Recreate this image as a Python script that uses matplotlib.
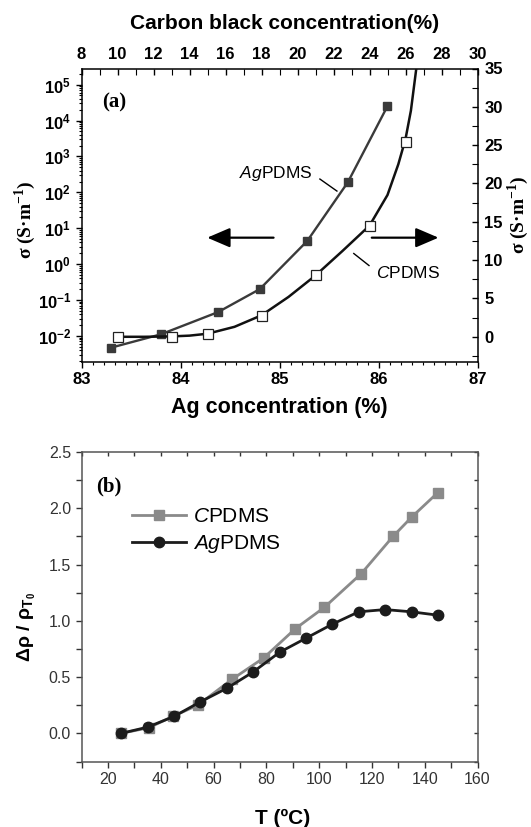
import matplotlib
matplotlib.use("Agg")
import matplotlib.pyplot as plt
from matplotlib.ticker import MultipleLocator, AutoMinorLocator, LogLocator, NullFormatter

plt.rcParams['font.family'] = ['Liberation Sans', 'DejaVu Sans']
plt.rcParams['mathtext.fontset'] = 'custom'
plt.rcParams['mathtext.rm'] = 'Liberation Sans'
plt.rcParams['mathtext.it'] = 'Liberation Sans:italic'
plt.rcParams['mathtext.bf'] = 'Liberation Sans:bold'

# ---------------- data: panel (a) ----------------
ag_conc = [83.30, 83.80, 84.38, 84.80, 85.28, 85.69, 86.09]
ag_sigma = [0.0047, 0.011, 0.046, 0.20, 4.4, 190.0, 2.5e4]

cb_conc = [10, 13, 15, 18, 21, 24, 26]
cb_sigma = [0.0, 0.0, 0.3, 2.7, 8.0, 14.5, 25.4]

# fitted curve for CPDMS
cb_fit = [10.3, 11.5, 13.0, 14.0, 15.0, 16.5, 18.0, 19.5, 21.0, 22.5, 24.0, 25.0, 25.6, 26.0, 26.3, 26.6]
sigma_fit = [0.0, 0.0, 0.05, 0.15, 0.4, 1.3, 2.8, 5.2, 8.0, 11.2, 14.5, 18.5, 22.5, 25.8, 29.5, 35.0]

# ---------------- data: panel (b) ----------------
T_c = [25, 35.5, 44.5, 54, 67, 79, 91, 102, 116, 128, 135, 145]
drho_c = [0.0, 0.05, 0.15, 0.25, 0.48, 0.67, 0.93, 1.12, 1.42, 1.75, 1.92, 2.14]

T_ag = [25, 35, 45, 55, 65, 75, 85, 95, 105, 115, 125, 135, 145]
drho_ag = [0.0, 0.055, 0.15, 0.28, 0.40, 0.545, 0.72, 0.845, 0.97, 1.08, 1.10, 1.08, 1.05]

W, H = 531, 827
fig = plt.figure(figsize=(W / 100, H / 100), dpi=100)

def fx(px):
    return px / W

def fy(py):
    return 1 - py / H

# ================= panel (a) =================
L, R = 81.5, 477.5
T1, B1 = 68.5, 361.7
pos1 = [fx(L), fy(B1), fx(R) - fx(L), fy(T1) - fy(B1)]
ax1 = fig.add_axes(pos1)
ax2 = fig.add_axes(pos1, frameon=False)

dark = '#3a3a3a'
ax1.plot(ag_conc, ag_sigma, color=dark, lw=1.7, marker='s', ms=6,
         mfc=dark, mec=dark, zorder=3)
ax1.set_yscale('log')
ax1.set_xlim(83, 87)
ax1.set_ylim(10 ** -2.72, 10 ** 5.45)
ax1.xaxis.set_major_locator(MultipleLocator(1))
ax1.xaxis.set_minor_locator(AutoMinorLocator(9))
ax1.yaxis.set_major_locator(LogLocator(base=10, numticks=20))
ax1.yaxis.set_minor_locator(LogLocator(base=10, subs=range(2, 10), numticks=20))
ax1.yaxis.set_minor_formatter(NullFormatter())
ax1.tick_params(axis='both', which='major', direction='out', length=4.5, width=1,
                labelsize=12, pad=3)
ax1.tick_params(axis='both', which='minor', direction='out', length=2.5, width=0.8)
ax1.tick_params(top=False, right=False)
for lab in ax1.get_xticklabels() + ax1.get_yticklabels():
    lab.set_fontweight('bold')
for sp in ax1.spines.values():
    sp.set_linewidth(1.1)

ax2.plot(cb_fit, sigma_fit, color='#111111', lw=1.8, zorder=2)
ax2.plot(cb_conc, cb_sigma, ls='none', marker='s', ms=7.5, mfc='white',
         mec='#222222', mew=0.9, zorder=4)
ax2.set_xlim(8, 30)
ax2.set_ylim(-3.25, 35)
ax2.xaxis.tick_top()
ax2.yaxis.tick_right()
ax2.xaxis.set_label_position('top')
ax2.yaxis.set_label_position('right')
ax2.xaxis.set_major_locator(MultipleLocator(2))
ax2.xaxis.set_minor_locator(MultipleLocator(1))
ax2.yaxis.set_major_locator(MultipleLocator(5))
ax2.yaxis.set_minor_locator(MultipleLocator(2.5))
ax2.tick_params(axis='both', which='major', direction='in', length=4, width=1,
                labelsize=12, pad=5)
ax2.tick_params(axis='both', which='minor', direction='in', length=4, width=0.8)
for lab in ax2.get_xticklabels() + ax2.get_yticklabels():
    lab.set_fontweight('bold')

# annotations
ax1.text(0.051, 0.883, '(a)', transform=ax1.transAxes, ha='left', va='center',
         fontsize=15, fontweight='bold', family='Liberation Serif')
ax1.text(0.491, 0.643, r'$\mathit{Ag}$PDMS', transform=ax1.transAxes,
         ha='center', va='center', fontsize=12.5)
ax1.plot([0.602, 0.645], [0.623, 0.582], transform=ax1.transAxes, color='black', lw=1)
ax1.text(0.8245, 0.301, r'$\mathit{C}$PDMS', transform=ax1.transAxes,
         ha='center', va='center', fontsize=12.5)
ax1.plot([0.6876, 0.726], [0.369, 0.328], transform=ax1.transAxes, color='black', lw=1)

arrow_kw = dict(arrowstyle='-|>,head_length=0.7,head_width=0.3', color='black',
                lw=1.6, mutation_scale=20, shrinkA=0, shrinkB=0)
ax1.annotate('', xy=(0.3175, 0.423), xytext=(0.485, 0.423),
             xycoords='axes fraction', textcoords='axes fraction', arrowprops=arrow_kw)
ax1.annotate('', xy=(0.9015, 0.423), xytext=(0.733, 0.423),
             xycoords='axes fraction', textcoords='axes fraction', arrowprops=arrow_kw)

fig.text(fx(284.5), fy(23.7), 'Carbon black concentration(%)', ha='center', va='center',
         fontsize=15, fontweight='bold')
fig.text(fx(279.4), fy(407.3), 'Ag concentration (%)', ha='center', va='center',
         fontsize=15.5, fontweight='bold')
fig.text(fx(25.4), fy(220), r'σ (S·m$^{\mathdefault{-1}}$)', ha='center', va='center',
         rotation=90, fontsize=14, fontweight='bold', family='Liberation Serif')
fig.text(fx(518), fy(215), r'σ (S·m$^{\mathdefault{-1}}$)', ha='center', va='center',
         rotation=90, fontsize=14, fontweight='bold', family='Liberation Serif')

# ================= panel (b) =================
T2, B2 = 452.0, 761.5
pos3 = [fx(L), fy(B2), fx(R) - fx(L), fy(T2) - fy(B2)]
ax3 = fig.add_axes(pos3)
ax3.plot(T_c, drho_c, color='#8a8a8a', lw=2, marker='s', ms=7, mfc='#8a8a8a',
         mec='#8a8a8a', label=r'$\mathit{C}$PDMS', zorder=3)
ax3.plot(T_ag, drho_ag, color='#1c1c1c', lw=2, marker='o', ms=7.5, mfc='#1c1c1c',
         mec='#1c1c1c', label=r'$\mathit{Ag}$PDMS', zorder=4)
ax3.set_xlim(10, 160)
ax3.set_ylim(-0.25, 2.5)
ax3.xaxis.set_major_locator(MultipleLocator(20))
ax3.xaxis.set_minor_locator(MultipleLocator(10))
ax3.yaxis.set_major_locator(MultipleLocator(0.5))
ax3.yaxis.set_minor_locator(MultipleLocator(0.25))
ax3.yaxis.set_major_formatter(matplotlib.ticker.FormatStrFormatter('%.1f'))
ax3.tick_params(axis='both', which='both', direction='out', length=4, width=1,
                labelsize=11.5, pad=3.5, colors='#333333')
ax3.tick_params(axis='both', which='both', top=True, right=True)
ax3.xaxis.set_tick_params(which='both', labeltop=False)
ax3.yaxis.set_tick_params(which='both', labelright=False)
# top/right ticks point inward
for t in ax3.xaxis.get_major_ticks() + ax3.xaxis.get_minor_ticks():
    t.tick2line.set_marker(matplotlib.lines.TICKDOWN)
    t.tick2line.set_markersize(3)
for t in ax3.yaxis.get_major_ticks() + ax3.yaxis.get_minor_ticks():
    t.tick2line.set_marker(matplotlib.lines.TICKLEFT)
    t.tick2line.set_markersize(3)
for sp in ax3.spines.values():
    sp.set_color('#555555')
    sp.set_linewidth(1.1)

leg = ax3.legend(loc='upper left', bbox_to_anchor=(0.1275, 0.822), frameon=False,
                 fontsize=15, handlelength=2.6, handletextpad=0.35, borderpad=0,
                 borderaxespad=0, labelspacing=0.35)
ax3.text(0.038, 0.888, '(b)', transform=ax3.transAxes, ha='left', va='center',
         fontsize=15, fontweight='bold', family='Liberation Serif')

fig.text(fx(283), fy(818), 'T (ºC)', ha='center', va='center', fontsize=15,
         fontweight='bold')
fig.text(fx(26.7), fy(627), r'Δρ / ρ$_{\mathdefault{T}_{\mathdefault{0}}}$', ha='center',
         va='center', rotation=90, fontsize=14, fontweight='bold')

fig.savefig('out.png', dpi=100)
